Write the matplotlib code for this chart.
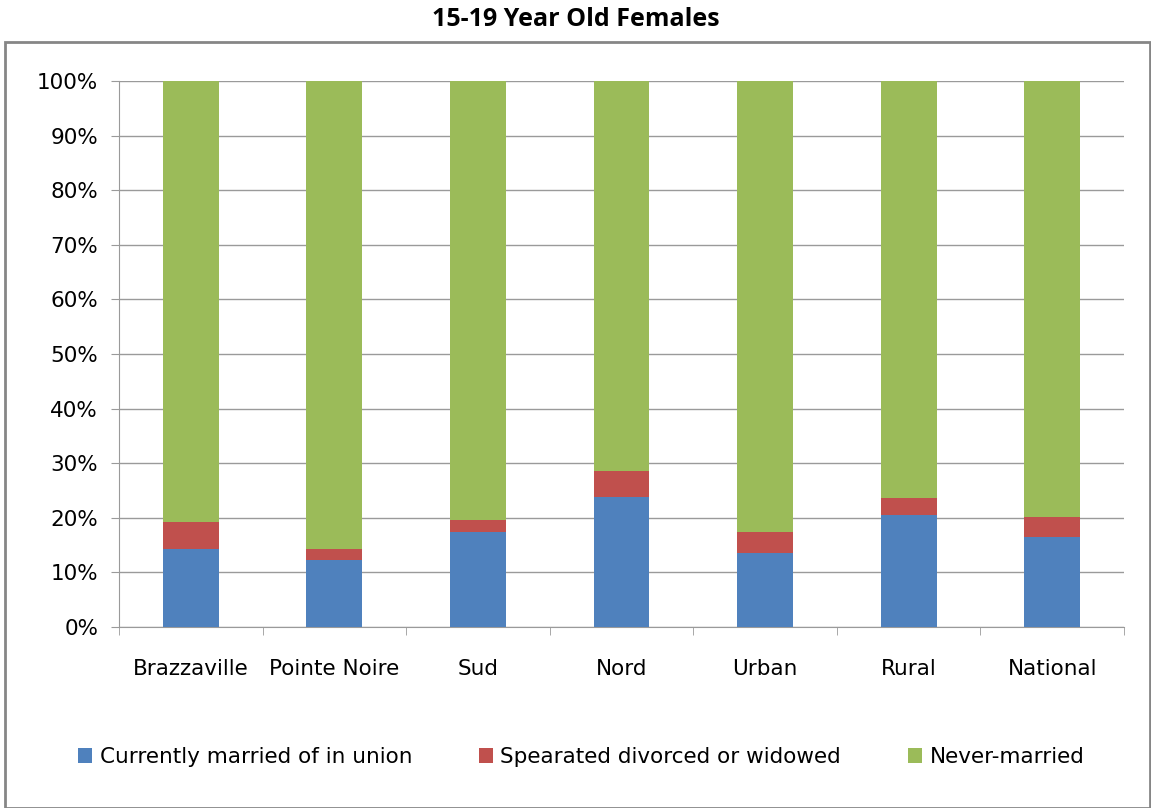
#necessary import statements
import numpy as np
import matplotlib.pyplot as plt
from matplotlib.patches import Rectangle
from matplotlib.ticker import PercentFormatter

#data
regions = ["Brazzaville", "Pointe Noire", "Sud", "Nord", "Urban", "Rural", "National"]
married = [14.2, 12.3, 17.4, 23.8, 13.5, 20.5, 16.5]
separated = [5.1, 1.9, 2.2, 4.7, 3.9, 3.1, 3.6]
never_married = [100 - m - s for m, s in zip(married, separated)]

labels = ["Currently married of in union", "Spearated divorced or widowed", "Never-married"]
colors = ["#4F81BD", "#C0504D", "#9BBB59"]

fs = 15.5
fig = plt.figure(figsize=(11.51, 8.08), dpi=100)
ax = fig.add_axes([119 / 1151, 1 - 627 / 808, 1005 / 1151, 546 / 808])

x = np.arange(len(regions))
width = 0.39
bottom = np.zeros(len(regions))
for vals, lab, col in zip([married, separated, never_married], labels, colors):
    ax.bar(x, vals, width, bottom=bottom, color=col, label=lab, zorder=3)
    bottom += np.array(vals)

#axes styling
ax.set_xlim(-0.5, len(regions) - 0.5)
ax.set_ylim(0, 100)
ax.set_yticks(np.arange(0, 101, 10))
ax.yaxis.set_major_formatter(PercentFormatter(decimals=0))
ax.set_xticks(x)
ax.set_xticklabels(regions)
ax.set_xticks(np.arange(-0.5, len(regions), 1), minor=True)
ax.tick_params(axis="x", which="major", length=0, pad=23, labelsize=fs)
ax.tick_params(axis="x", which="minor", length=6, color="#9A9A9A", direction="out")
ax.tick_params(axis="y", length=6, color="#9A9A9A", labelsize=fs, pad=9)
ax.grid(axis="y", color="#9A9A9A", linewidth=1, zorder=0)
for side in ["top", "right"]:
    ax.spines[side].set_visible(False)
for side in ["left", "bottom"]:
    ax.spines[side].set_color("#9A9A9A")

#title and outer border
fig.text(0.5, 1 - 20 / 808, "15-19 Year Old Females", ha="center", va="center",
         fontsize=18, fontweight="bold", family="Open Sans")
fig.patches.append(Rectangle((5 / 1151, 0), 1 - 5 / 1151 - 0.001, 1 - 42 / 808,
                             transform=fig.transFigure, fill=False,
                             edgecolor="#868686", linewidth=2))

#legend
handles, lbls = ax.get_legend_handles_labels()
fig.legend(handles, lbls, loc="center", bbox_to_anchor=(0.505, 1 - 757 / 808), ncol=3,
           frameon=False, fontsize=fs, handlelength=0.65, handleheight=0.65,
           handletextpad=0.35, columnspacing=3.1)

fig.savefig("out.png", dpi=100)
